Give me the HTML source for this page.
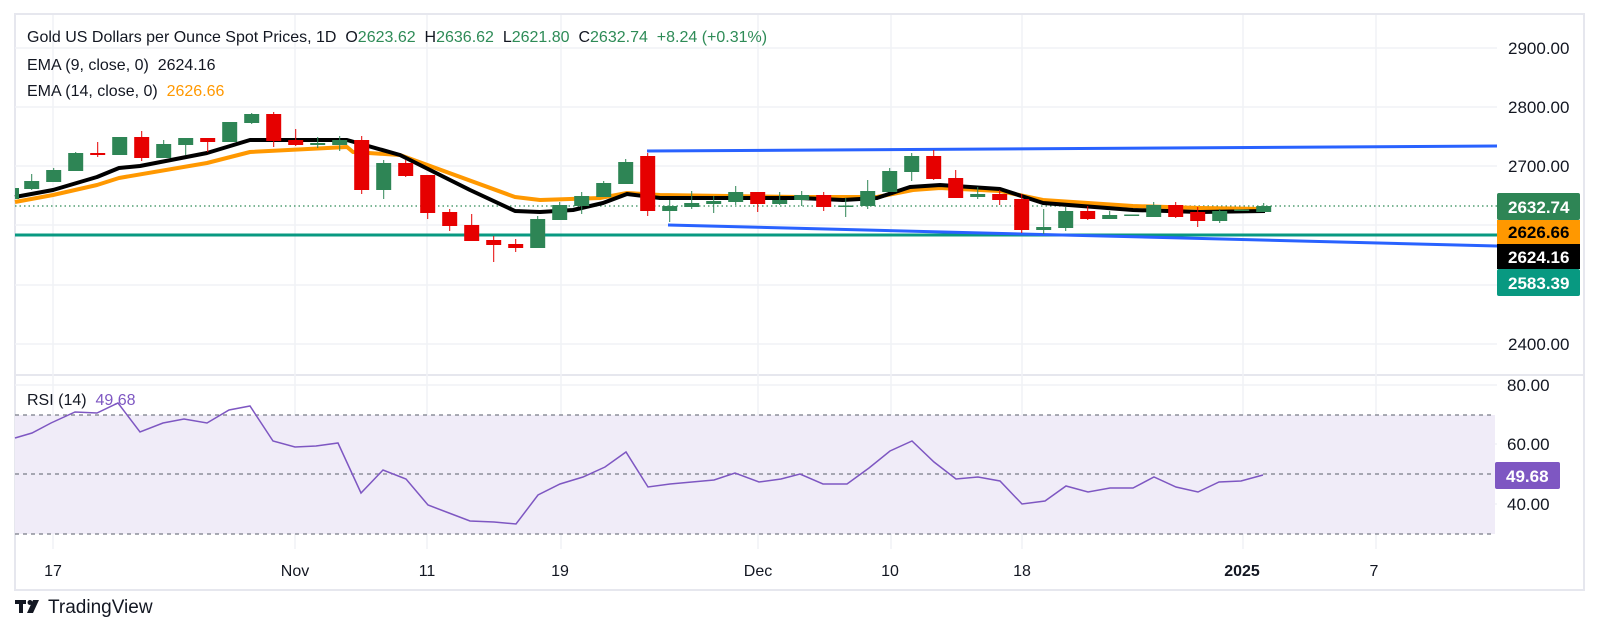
<!DOCTYPE html>
<html><head><meta charset="utf-8"><style>
html,body{margin:0;padding:0;background:#fff;width:1601px;height:644px;overflow:hidden}
svg{display:block;font-family:"Liberation Sans",sans-serif}
text{white-space:pre}
</style></head><body>
<svg width="1601" height="644" viewBox="0 0 1601 644" xmlns="http://www.w3.org/2000/svg" xml:space="preserve">
<!-- frame -->
<rect x="15" y="14" width="1569" height="576" fill="none" stroke="#e6e7ee" stroke-width="2"/>
<line x1="15" y1="375" x2="1584" y2="375" stroke="#e6e7ee" stroke-width="2"/>
<!-- grid -->
<g stroke="#f0f2f6" stroke-width="1.5">
<line x1="15" y1="48" x2="1497" y2="48"/><line x1="15" y1="107" x2="1497" y2="107"/><line x1="15" y1="166" x2="1497" y2="166"/><line x1="15" y1="225" x2="1497" y2="225"/><line x1="15" y1="285" x2="1497" y2="285"/><line x1="15" y1="344" x2="1497" y2="344"/>
<line x1="15" y1="385" x2="1497" y2="385"/><line x1="15" y1="444" x2="1497" y2="444"/><line x1="15" y1="504" x2="1497" y2="504"/>
<line x1="53" y1="15" x2="53" y2="549"/><line x1="295" y1="15" x2="295" y2="549"/><line x1="427" y1="15" x2="427" y2="549"/><line x1="561" y1="15" x2="561" y2="549"/><line x1="758" y1="15" x2="758" y2="549"/><line x1="891" y1="15" x2="891" y2="549"/><line x1="1022" y1="15" x2="1022" y2="549"/><line x1="1243" y1="15" x2="1243" y2="549"/><line x1="1376" y1="15" x2="1376" y2="549"/>
</g>
<!-- header -->
<text x="27" y="42" font-size="16" fill="#131722">Gold US Dollars per Ounce Spot Prices, 1D  O<tspan fill="#2e8b57">2623.62</tspan>  H<tspan fill="#2e8b57">2636.62</tspan>  L<tspan fill="#2e8b57">2621.80</tspan>  C<tspan fill="#2e8b57">2632.74</tspan>  <tspan fill="#2e8b57">+8.24 (+0.31%)</tspan></text>
<text x="27" y="70" font-size="16" fill="#131722">EMA (9, close, 0)  2624.16</text>
<text x="27" y="96" font-size="16" fill="#131722">EMA (14, close, 0)  <tspan fill="#ff9800">2626.66</tspan></text>
<!-- lines -->
<line x1="15" y1="235" x2="1497" y2="235" stroke="#089981" stroke-width="3"/>
<line x1="15" y1="206" x2="1497" y2="206" stroke="#2e8b57" stroke-width="1.2" stroke-dasharray="1.5,3"/>
<line x1="647" y1="151" x2="1497" y2="146" stroke="#2962ff" stroke-width="3"/>
<line x1="668" y1="225" x2="1497" y2="246" stroke="#2962ff" stroke-width="3"/>
<!-- EMAs -->
<polyline fill="none" stroke="#ff9800" stroke-width="4" stroke-linejoin="round" points="15,202 53,195 97,185 119,178 207,163 250,152 347,147 353,152 400,155 515,197 540,200 600,198 627,193 660,195 800,197 877,197 913,190 940,188 1000,191 1043,200 1133,206 1200,208 1265,209"/>
<polyline fill="none" stroke="#000" stroke-width="4" stroke-linejoin="round" points="15,197 53,190 97,177 119,168 140,166 207,153 250,140 347,140 400,155 470,190 515,211 540,212 573,210 603,203 627,194 660,198 800,198 843,200 877,198 910,187 940,185 1000,189 1043,203 1133,210 1200,212 1265,211"/>
<!-- candles -->
<g>
<g fill="#2e8555" stroke="#2e8555">
<rect x="15" y="188" width="4" height="11" stroke="none"/>
<line x1="31.7" y1="174" x2="31.7" y2="190"/><rect x="24.2" y="181" width="15" height="8" stroke="none"/>
<line x1="53.7" y1="168" x2="53.7" y2="182"/><rect x="46.2" y="170" width="15" height="12" stroke="none"/>
<line x1="75.7" y1="152" x2="75.7" y2="171"/><rect x="68.2" y="153" width="15" height="18" stroke="none"/>
<rect x="112.2" y="137" width="15" height="18" stroke="none"/>
<line x1="163.7" y1="140" x2="163.7" y2="158"/><rect x="156.2" y="144" width="15" height="14" stroke="none"/>
<line x1="185.7" y1="138" x2="185.7" y2="155"/><rect x="178.2" y="138" width="15" height="7" stroke="none"/>
<rect x="222.2" y="122" width="15" height="20" stroke="none"/>
<line x1="251.7" y1="113" x2="251.7" y2="124"/><rect x="244.2" y="114" width="15" height="9" stroke="none"/>
<line x1="317.7" y1="137" x2="317.7" y2="148"/><rect x="310.2" y="143" width="15" height="2" stroke="none"/>
<line x1="339.7" y1="136" x2="339.7" y2="151"/><rect x="332.2" y="140" width="15" height="5" stroke="none"/>
<line x1="383.7" y1="160" x2="383.7" y2="199"/><rect x="376.2" y="163" width="15" height="27" stroke="none"/>
<line x1="537.7" y1="216" x2="537.7" y2="248"/><rect x="530.2" y="219" width="15" height="29" stroke="none"/>
<line x1="559.7" y1="202" x2="559.7" y2="220"/><rect x="552.2" y="205" width="15" height="15" stroke="none"/>
<line x1="581.7" y1="192" x2="581.7" y2="214"/><rect x="574.2" y="196" width="15" height="10" stroke="none"/>
<line x1="603.7" y1="181" x2="603.7" y2="197"/><rect x="596.2" y="183" width="15" height="14" stroke="none"/>
<line x1="625.7" y1="159" x2="625.7" y2="184"/><rect x="618.2" y="162" width="15" height="22" stroke="none"/>
<line x1="669.7" y1="200" x2="669.7" y2="222"/><rect x="662.2" y="206" width="15" height="5" stroke="none"/>
<line x1="691.7" y1="191" x2="691.7" y2="209"/><rect x="684.2" y="203" width="15" height="4" stroke="none"/>
<line x1="713.7" y1="196" x2="713.7" y2="213"/><rect x="706.2" y="201" width="15" height="3" stroke="none"/>
<line x1="735.7" y1="186" x2="735.7" y2="205"/><rect x="728.2" y="192" width="15" height="10" stroke="none"/>
<line x1="779.7" y1="192" x2="779.7" y2="205"/><rect x="772.2" y="200" width="15" height="4" stroke="none"/>
<line x1="801.7" y1="191" x2="801.7" y2="206"/><rect x="794.2" y="195" width="15" height="5" stroke="none"/>
<line x1="845.7" y1="198" x2="845.7" y2="217"/><rect x="838.2" y="205.5" width="15" height="1.5" stroke="none"/>
<line x1="867.7" y1="180" x2="867.7" y2="209"/><rect x="860.2" y="191" width="15" height="15" stroke="none"/>
<line x1="889.7" y1="168" x2="889.7" y2="192"/><rect x="882.2" y="171" width="15" height="21" stroke="none"/>
<line x1="911.7" y1="153" x2="911.7" y2="181"/><rect x="904.2" y="156" width="15" height="16" stroke="none"/>
<line x1="977.7" y1="187" x2="977.7" y2="199"/><rect x="970.2" y="194" width="15" height="3" stroke="none"/>
<line x1="1043.7" y1="209" x2="1043.7" y2="234"/><rect x="1036.2" y="227" width="15" height="3" stroke="none"/>
<line x1="1065.7" y1="207" x2="1065.7" y2="231"/><rect x="1058.2" y="211" width="15" height="17" stroke="none"/>
<line x1="1109.7" y1="211" x2="1109.7" y2="219"/><rect x="1102.2" y="215" width="15" height="4" stroke="none"/>
<rect x="1124.2" y="214.5" width="15" height="1.5" stroke="none"/>
<line x1="1153.7" y1="202" x2="1153.7" y2="217"/><rect x="1146.2" y="205" width="15" height="12" stroke="none"/>
<line x1="1219.7" y1="209" x2="1219.7" y2="223"/><rect x="1212.2" y="211" width="15" height="10" stroke="none"/>
<rect x="1234.2" y="209.5" width="15" height="1.5" stroke="none"/>
<line x1="1263.7" y1="203" x2="1263.7" y2="212"/><rect x="1256.2" y="206" width="15" height="6" stroke="none"/>
</g>
<g fill="#e60000" stroke="#e60000">
<line x1="97.7" y1="142" x2="97.7" y2="157"/><rect x="90.2" y="153" width="15" height="2" stroke="none"/>
<line x1="141.7" y1="131" x2="141.7" y2="161"/><rect x="134.2" y="137" width="15" height="21" stroke="none"/>
<line x1="207.7" y1="138" x2="207.7" y2="152"/><rect x="200.2" y="138" width="15" height="4" stroke="none"/>
<line x1="273.7" y1="112" x2="273.7" y2="147"/><rect x="266.2" y="114" width="15" height="27" stroke="none"/>
<line x1="295.7" y1="129" x2="295.7" y2="146"/><rect x="288.2" y="140" width="15" height="5" stroke="none"/>
<line x1="361.7" y1="136" x2="361.7" y2="194"/><rect x="354.2" y="140" width="15" height="50" stroke="none"/>
<line x1="405.7" y1="160" x2="405.7" y2="177"/><rect x="398.2" y="163" width="15" height="13" stroke="none"/>
<line x1="427.7" y1="175" x2="427.7" y2="219"/><rect x="420.2" y="175" width="15" height="38" stroke="none"/>
<line x1="449.7" y1="209" x2="449.7" y2="231"/><rect x="442.2" y="212" width="15" height="14" stroke="none"/>
<line x1="471.7" y1="214" x2="471.7" y2="241"/><rect x="464.2" y="225" width="15" height="16" stroke="none"/>
<line x1="493.7" y1="236" x2="493.7" y2="262"/><rect x="486.2" y="240" width="15" height="5" stroke="none"/>
<line x1="515.7" y1="239" x2="515.7" y2="252"/><rect x="508.2" y="244" width="15" height="4" stroke="none"/>
<line x1="647.7" y1="153" x2="647.7" y2="216"/><rect x="640.2" y="156" width="15" height="55" stroke="none"/>
<line x1="757.7" y1="192" x2="757.7" y2="212"/><rect x="750.2" y="192" width="15" height="12" stroke="none"/>
<line x1="823.7" y1="192" x2="823.7" y2="211"/><rect x="816.2" y="195" width="15" height="12" stroke="none"/>
<line x1="933.7" y1="150" x2="933.7" y2="180"/><rect x="926.2" y="156" width="15" height="23" stroke="none"/>
<line x1="955.7" y1="170" x2="955.7" y2="198"/><rect x="948.2" y="178" width="15" height="20" stroke="none"/>
<line x1="999.7" y1="190" x2="999.7" y2="205"/><rect x="992.2" y="194" width="15" height="6" stroke="none"/>
<line x1="1021.7" y1="194" x2="1021.7" y2="233"/><rect x="1014.2" y="199" width="15" height="31" stroke="none"/>
<line x1="1087.7" y1="206" x2="1087.7" y2="220"/><rect x="1080.2" y="211" width="15" height="8" stroke="none"/>
<line x1="1175.7" y1="202" x2="1175.7" y2="218"/><rect x="1168.2" y="205" width="15" height="12" stroke="none"/>
<line x1="1197.7" y1="207" x2="1197.7" y2="227"/><rect x="1190.2" y="212" width="15" height="9" stroke="none"/>
</g>
</g>
<!-- price axis -->
<g font-size="17" fill="#131722">
<text x="1508" y="54">2900.00</text><text x="1508" y="113">2800.00</text><text x="1508" y="172">2700.00</text><text x="1508" y="350">2400.00</text>
</g>
<rect x="1497" y="193" width="83" height="27" fill="#2e8555" rx="2"/>
<rect x="1497" y="220" width="83" height="24" fill="#ff9800"/>
<rect x="1497" y="244" width="83" height="25" fill="#000"/>
<rect x="1497" y="269" width="83" height="27" fill="#089981" rx="2"/>
<g font-size="17" font-weight="bold">
<text x="1508" y="213" fill="#fff">2632.74</text>
<text x="1508" y="238" fill="#000">2626.66</text>
<text x="1508" y="263" fill="#fff">2624.16</text>
<text x="1508" y="289" fill="#fff">2583.39</text>
</g>
<!-- RSI -->
<rect x="15" y="415" width="1480" height="119" fill="#f0ecf8"/>
<g stroke="#787b86" stroke-width="1.2" stroke-dasharray="4,4">
<line x1="15" y1="415" x2="1495" y2="415"/><line x1="15" y1="474" x2="1495" y2="474"/><line x1="15" y1="534" x2="1495" y2="534"/>
</g>
<polyline fill="none" stroke="#7e57c2" stroke-width="1.5" points="15,438 32,433 51,423 75,412 97,413 118,403 140,432 163,423 184,419 207,423 229,410 250,406 273,441 295,447 316,446 338,443 361,493 383,470 406,479 428,505 449,513 470,521 494,522 516,524 538,495 560,484 583,477 605,467 626,452 648,487 670,484 692,482 714,480 735,473 759,482 781,479 800,474 823,484 847,484 869,468 890,451 912,441 934,462 956,479 978,477 1000,481 1022,504 1045,501 1066,486 1088,492 1110,488 1133,488 1154,477 1176,487 1198,492 1219,482 1241,481 1263,475"/>
<text x="27" y="405" font-size="16" fill="#131722">RSI (14)  <tspan fill="#7e57c2">49.68</tspan></text>
<g font-size="17" fill="#131722">
<text x="1507" y="391">80.00</text><text x="1507" y="450">60.00</text><text x="1507" y="510">40.00</text>
</g>
<rect x="1495" y="462" width="65" height="27" fill="#7e57c2" rx="2"/>
<text x="1506" y="482" font-size="17" font-weight="bold" fill="#fff">49.68</text>
<!-- time axis -->
<g font-size="16" fill="#131722" text-anchor="middle">
<text x="53" y="576">17</text><text x="295" y="576">Nov</text><text x="427" y="576">11</text><text x="560" y="576">19</text><text x="758" y="576">Dec</text><text x="890" y="576">10</text><text x="1022" y="576">18</text><text x="1242" y="576" font-weight="bold">2025</text><text x="1374" y="576">7</text>
</g>
<!-- logo -->
<g fill="#131722">
<rect x="15" y="600" width="11" height="4"/><rect x="19" y="600" width="4" height="13"/>
<circle cx="30" cy="602.5" r="2.5"/><polygon points="33,600 39,600 33,613 27,613"/>
</g>
<text x="48" y="613" font-size="19" fill="#131722">TradingView</text>
</svg>
</body></html>
